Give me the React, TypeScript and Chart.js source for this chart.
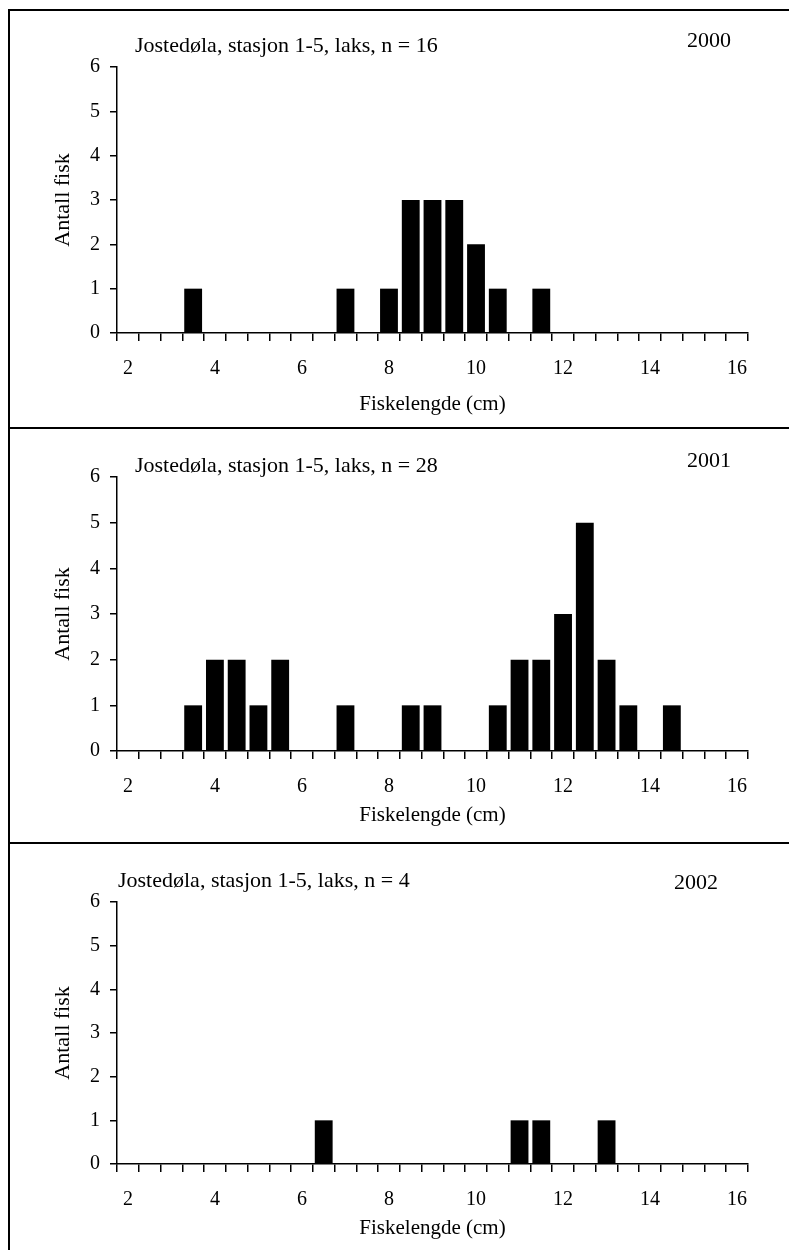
import React, { useEffect, useRef } from 'react';
import { Chart, registerables } from 'chart.js';

Chart.register(...registerables);

// Fish length classes (cm), 0.5 cm steps
const CATEGORIES = [
  '2', '2.5', '3', '3.5', '4', '4.5', '5', '5.5', '6', '6.5',
  '7', '7.5', '8', '8.5', '9', '9.5', '10', '10.5', '11', '11.5',
  '12', '12.5', '13', '13.5', '14', '14.5', '15', '15.5', '16',
];
const TICK_LABELS = ['2', '4', '6', '8', '10', '12', '14', '16'];

// Number of fish per length class
const COUNTS_2000 = [0, 0, 0, 1, 0, 0, 0, 0, 0, 0, 1, 0, 1, 3, 3, 3, 2, 1, 0, 1, 0, 0, 0, 0, 0, 0, 0, 0, 0];
const COUNTS_2001 = [0, 0, 0, 1, 2, 2, 1, 2, 0, 0, 1, 0, 0, 1, 1, 0, 0, 1, 2, 2, 3, 5, 2, 1, 0, 1, 0, 0, 0];
const COUNTS_2002 = [0, 0, 0, 0, 0, 0, 0, 0, 0, 1, 0, 0, 0, 0, 0, 0, 0, 0, 1, 1, 0, 0, 1, 0, 0, 0, 0, 0, 0];

const TITLES = [
  'Jostedøla, stasjon 1-5, laks, n = 16',
  'Jostedøla, stasjon 1-5, laks, n = 28',
  'Jostedøla, stasjon 1-5, laks, n = 4',
];
const YEARS = ['2000', '2001', '2002'];
const X_TITLE = 'Fiskelengde (cm)';
const Y_TITLE = 'Antall fisk';
const Y_MIN = 0;
const Y_MAX = 6;

const FONT = '"Liberation Serif", "Times New Roman", serif';
const CANVAS_W = 779;
const AREA_LEFT = 107;
const AREA_RIGHT = 738;
const Y_TITLE_SIZE = 22;

const PANELS = [
  { data: COUNTS_2000, title: TITLES[0], year: YEARS[0], h: 416, top: 56, bottom: 322, titleX: 125, titleY: 35, yearX: 677, yearY: 30, xTitleY: 393 },
  { data: COUNTS_2001, title: TITLES[1], year: YEARS[1], h: 413, top: 48, bottom: 322, titleX: 125, titleY: 37, yearX: 677, yearY: 32, xTitleY: 386 },
  { data: COUNTS_2002, title: TITLES[2], year: YEARS[2], h: 406, top: 58, bottom: 320, titleX: 108, titleY: 37, yearX: 664, yearY: 39, xTitleY: 384 },
];

const panelText = {
  id: 'panelText',
  afterDraw(chart: any, _args: any, opts: any) {
    const ctx = chart.ctx;
    ctx.save();
    ctx.fillStyle = '#000';
    ctx.textAlign = 'left';
    ctx.textBaseline = 'middle';
    ctx.font = `22px ${FONT}`;
    ctx.fillText(opts.title, opts.titleX, opts.titleY);
    ctx.fillText(opts.year, opts.yearX, opts.yearY);
    ctx.restore();
  },
};

function Panel({ p, last }: { p: any; last: boolean }) {
  const ref = useRef<HTMLCanvasElement | null>(null);
  useEffect(() => {
    if (!ref.current) return;
    const xTitleLH = 21 * 1.2;
    const yTitleLH = Y_TITLE_SIZE * 1.2;
    const chart = new Chart(ref.current, {
      type: 'bar',
      data: {
        labels: CATEGORIES,
        datasets: [
          {
            data: p.data,
            backgroundColor: '#000',
            borderWidth: 0,
            barPercentage: 0.82,
            categoryPercentage: 1,
          },
        ],
      },
      plugins: [panelText],
      options: {
        responsive: false,
        animation: false,
        events: [],
        layout: { padding: { left: 0, right: CANVAS_W - AREA_RIGHT, top: p.top, bottom: 0 } },
        plugins: {
          legend: { display: false },
          tooltip: { enabled: false },
          title: { display: false },
          panelText: {
            title: p.title,
            year: p.year,
            titleX: p.titleX,
            titleY: p.titleY,
            yearX: p.yearX,
            yearY: p.yearY,
          },
        } as any,
        scales: {
          x: {
            type: 'category',
            offset: true,
            grid: {
              offset: true,
              drawOnChartArea: false,
              drawTicks: true,
              tickLength: 8,
              color: '#000',
              lineWidth: 1.5,
            },
            border: { display: true, color: '#000', width: 1.5 },
            ticks: {
              autoSkip: false,
              maxRotation: 0,
              minRotation: 0,
              padding: 16,
              color: '#000',
              font: { family: FONT, size: 20 },
              callback: (_v: any, i: number) =>
                TICK_LABELS.includes(CATEGORIES[i]) ? CATEGORIES[i] : '',
            },
            title: {
              display: true,
              text: X_TITLE,
              color: '#000',
              font: { family: FONT, size: 21 },
              padding: { top: 0, bottom: p.h - p.xTitleY - xTitleLH / 2 },
            },
            afterFit: (s: any) => {
              s.height = p.h - p.bottom;
            },
          },
          y: {
            min: Y_MIN,
            max: Y_MAX,
            ticks: {
              stepSize: 1,
              padding: 10,
              color: '#000',
              font: { family: FONT, size: 20 },
            },
            grid: {
              drawOnChartArea: false,
              drawTicks: true,
              tickLength: 7,
              color: '#000',
              lineWidth: 1.5,
            },
            border: { display: true, color: '#000', width: 1.5 },
            title: {
              display: true,
              text: Y_TITLE,
              color: '#000',
              font: { family: FONT, size: Y_TITLE_SIZE },
              padding: { top: 53 - yTitleLH / 2, bottom: 0 },
            },
            afterFit: (s: any) => {
              s.width = AREA_LEFT;
            },
          },
        },
      } as any,
    });
    return () => chart.destroy();
  }, [p]);
  return (
    <div
      style={{
        height: p.h,
        borderBottom: last ? 'none' : '2px solid #000',
        overflow: 'hidden',
      }}
    >
      <canvas ref={ref} width={CANVAS_W} height={p.h} style={{ display: 'block' }} />
    </div>
  );
}

export default function App() {
  return (
    <div
      style={{
        position: 'absolute',
        left: 8,
        top: 9,
        width: 781,
        height: 1241,
        boxSizing: 'border-box',
        borderLeft: '2px solid #000',
        borderTop: '2px solid #000',
        background: '#fff',
        overflow: 'hidden',
      }}
    >
      {PANELS.map((p, i) => (
        <Panel key={i} p={p} last={i === PANELS.length - 1} />
      ))}
    </div>
  );
}
